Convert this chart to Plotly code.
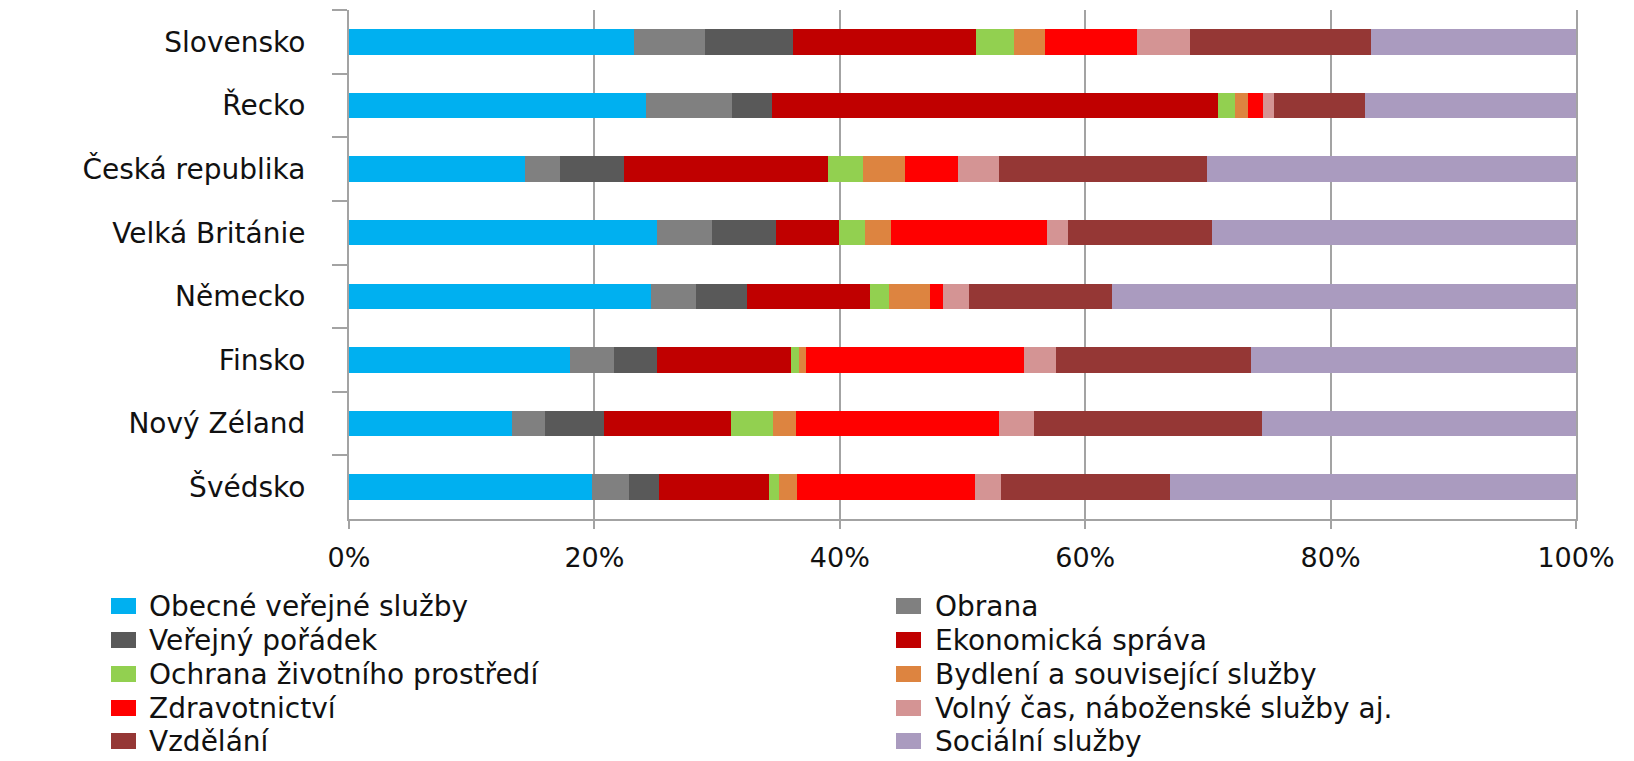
import plotly.graph_objects as go

countries = ["Slovensko", "Řecko", "Česká republika", "Velká Británie",
             "Německo", "Finsko", "Nový Zéland", "Švédsko"]

series_names = ["Obecné veřejné služby", "Obrana", "Veřejný pořádek",
                "Ekonomická správa", "Ochrana životního prostředí",
                "Bydlení a související služby", "Zdravotnictví",
                "Volný čas, náboženské služby aj.", "Vzdělání", "Sociální služby"]

colors = ["#00B0F0", "#808080", "#595959", "#C00000", "#92D050",
          "#DD8440", "#FF0000", "#D49494", "#953735", "#AA9BBF"]

# values in % per country (order as countries)
obecne      = [23.2, 24.2, 14.35, 25.1, 24.65, 18.0, 13.3, 19.8]
obrana      = [5.8, 7.0, 2.85, 4.5, 3.65, 3.6, 2.65, 3.0]
poradek     = [7.2, 3.3, 5.2, 5.2, 4.1, 3.5, 4.85, 2.45]
ekonomicka  = [14.9, 36.3, 16.6, 5.1, 10.05, 10.9, 10.35, 9.0]
ochrana     = [3.1, 1.4, 2.9, 2.15, 1.6, 0.7, 3.4, 0.8]
bydleni     = [2.5, 1.1, 3.45, 2.15, 3.3, 0.55, 1.85, 1.45]
zdravotnictvi = [7.5, 1.2, 4.3, 12.7, 1.05, 17.8, 16.6, 14.55]
volny_cas   = [4.3, 0.9, 3.3, 1.7, 2.15, 2.55, 2.8, 2.05]
vzdelani    = [14.8, 7.4, 16.95, 11.7, 11.65, 15.9, 18.6, 13.8]
socialni    = [16.7, 17.2, 30.1, 29.7, 37.8, 26.5, 25.6, 33.1]

series_values = [obecne, obrana, poradek, ekonomicka, ochrana, bydleni,
                 zdravotnictvi, volny_cas, vzdelani, socialni]

x_ticks = [0, 20, 40, 60, 80, 100]
x_ticklabels = ["0%", "20%", "40%", "60%", "80%", "100%"]

W, H = 1634, 761
ML, MR, MT, MB = 349, 58, 10, 242
PW, PH = W - ML - MR, H - MT - MB

FONT = "DejaVu Sans"
GRID = "#A3A3A3"
TXT = "#111111"

fig = go.Figure()
for name, vals, col in zip(series_names, series_values, colors):
    fig.add_trace(go.Bar(
        y=countries, x=vals, name=name, orientation="h",
        marker=dict(color=col, line=dict(width=0)),
        showlegend=False,
    ))

def px_x(px):
    return (px - ML) / PW

def px_y(py):
    return (H - MB - py) / PH

shapes = []
annotations = []
col_swatch = [111, 896]
col_text = [147, 933]
row_y = [606, 640, 674, 708, 741]
for i, (name, col) in enumerate(zip(series_names, colors)):
    c = i % 2
    r = i // 2
    cy = row_y[r]
    shapes.append(dict(
        type="rect", xref="paper", yref="paper",
        x0=px_x(col_swatch[c]), x1=px_x(col_swatch[c] + 25),
        y0=px_y(cy - 8), y1=px_y(cy + 8),
        fillcolor=col, line=dict(width=0), layer="above",
    ))
    annotations.append(dict(
        text=name, xref="paper", yref="paper",
        x=px_x(col_text[c]), y=px_y(cy), xanchor="left", yanchor="middle",
        showarrow=False, font=dict(family=FONT, size=28, color=TXT),
    ))

fig.update_layout(
    width=W, height=H,
    margin=dict(l=ML, r=MR, t=MT, b=MB),
    barmode="stack", bargap=0.6,
    plot_bgcolor="white", paper_bgcolor="white",
    showlegend=False,
    shapes=shapes, annotations=annotations,
    font=dict(family=FONT, color=TXT),
    xaxis=dict(
        range=[0, 100], tickvals=x_ticks, ticktext=x_ticklabels,
        showgrid=True, gridcolor=GRID, gridwidth=2,
        zeroline=False, showline=True, linecolor=GRID, linewidth=2,
        ticks="outside", ticklen=8, tickcolor=GRID, tickwidth=2,
        tickfont=dict(family=FONT, size=27, color=TXT),
        ticklabelstandoff=6,
    ),
    yaxis=dict(
        autorange="reversed", type="category",
        showgrid=False, zeroline=False,
        showline=True, linecolor=GRID, linewidth=2, mirror=True,
        ticks="outside", tickson="boundaries", ticklen=15,
        tickcolor=GRID, tickwidth=2,
        tickfont=dict(family=FONT, size=28, color=TXT),
        ticklabelstandoff=36,
    ),
)

fig.write_html("out.html", config={"displayModeBar": False},
               post_script="document.body.style.margin='0px';")
